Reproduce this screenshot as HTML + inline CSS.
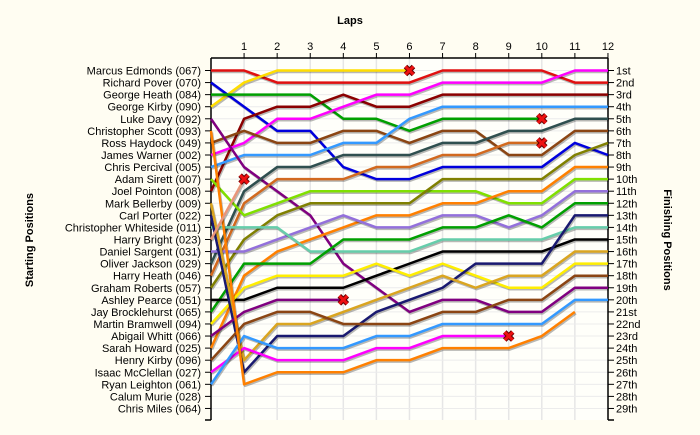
<!DOCTYPE html>
<html><head><meta charset="utf-8"><style>
body{margin:0;background:#fffdf2;}
svg{display:block;font-family:"Liberation Sans",sans-serif;}
</style></head><body>
<svg id="chart" width="700" height="435" viewBox="0 0 700 435" xmlns="http://www.w3.org/2000/svg">
<rect x="0" y="0" width="700" height="435" fill="#fffdf2"/>
<rect x="211" y="58" width="397" height="362" fill="#fffffa"/>
<text x="350" y="24" font-size="11" font-weight="bold" text-anchor="middle">Laps</text>
<text transform="translate(33,240) rotate(-90)" font-size="11" font-weight="bold" text-anchor="middle">Starting Positions</text>
<text transform="translate(664,240) rotate(90)" font-size="11" font-weight="bold" text-anchor="middle">Finishing Positions</text>
<g id="grid"></g><g id="axes"></g><g id="series"></g><g id="marks"></g>
</svg>
<script>
const laps = [0,1,2,3,4,5,6,7,8,9,10,11,12];
const startNames = ["Marcus Edmonds (067)","Richard Pover (070)","George Heath (084)","George Kirby (090)","Luke Davy (092)","Christopher Scott (093)","Ross Haydock (049)","James Warner (002)","Chris Percival (005)","Adam Sirett (007)","Joel Pointon (008)","Mark Bellerby (009)","Carl Porter (022)","Christopher Whiteside (011)","Harry Bright (023)","Daniel Sargent (031)","Oliver Jackson (029)","Harry Heath (046)","Graham Roberts (057)","Ashley Pearce (051)","Jay Brocklehurst (065)","Martin Bramwell (094)","Abigail Whitt (066)","Sarah Howard (025)","Henry Kirby (096)","Isaac McClellan (027)","Ryan Leighton (061)","Calum Murie (028)","Chris Miles (064)"];
const finishLabels = ["1st","2nd","3rd","4th","5th","6th","7th","8th","9th","10th","11th","12th","13th","14th","15th","16th","17th","18th","19th","20th","21st","22nd","23rd","24th","25th","26th","27th","28th","29th"];
const seriesColors = ["#e01010","#ffdd00","#0000dd","#00a000","#8b0000","#ff00ff","#8b4513","#3399ff","#800080","#2f4f4f","#d2691e","#80e000","#808000","#ff8000","#9370db","#66cdaa","#00a000","#000000","#ffee00","#191970","#daa520","#800080","#8b4513","#ff00ff","#3399ff","#ff8000","#e9967a"];
const seriesPositions = [
 [1,1,2,2,2,2,2,1,1,1,1,2,2],
 [4,2,1,1,1,1,1],
 [2,4,6,6,9,10,10,9,9,9,9,7,8],
 [3,3,3,3,5,5,6,5,5,5,5],
 [11,5,4,4,3,4,4,3,3,3,3,3,3],
 [8,7,5,5,4,3,3,2,2,2,2,1,1],
 [7,6,7,7,6,6,7,6,6,8,8,6,6],
 [9,8,8,8,7,7,5,4,4,4,4,4,4],
 [5,9,11,13,17,19,21,20,20,21,21,19,19],
 [17,11,9,9,8,8,8,7,7,6,6,5,5],
 [18,12,10,10,10,9,9,8,8,7,7],
 [10,13,12,11,11,11,11,11,11,12,12,10,10],
 [19,15,13,12,12,12,12,10,10,10,10,8,7],
 [24,18,16,15,14,13,13,12,12,11,11,9,9],
 [16,16,15,14,13,14,14,13,13,14,13,11,11],
 [14,14,14,16,16,16,16,15,15,15,15,14,14],
 [21,17,17,17,15,15,15,14,14,13,14,12,12],
 [20,20,19,19,19,18,17,16,16,16,16,15,15],
 [22,19,18,18,18,17,18,17,18,19,19,17,17],
 [13,26,23,23,23,21,20,19,17,17,17,13,13],
 [12,25,22,22,21,20,19,18,19,18,18,16,16],
 [23,21,20,20,20],
 [25,22,21,21,22,22,22,21,21,20,20,18,18],
 [26,24,25,25,25,24,24,23,23,23],
 [27,23,24,24,24,23,23,22,22,22,22,20,20],
 [6,27,26,26,26,25,25,24,24,24,23,21],
 [15,10]
];
const retired = [1,3,10,21,23,26];
const NS="http://www.w3.org/2000/svg";
const svg=document.getElementById('chart');
function xScale(l){return 211+l*33.08;}
function yScale(p){return 70.5+(p-1)*12.07;}
function mk(tag,attrs,parent){const e=document.createElementNS(NS,tag);for(const k in attrs)e.setAttribute(k,attrs[k]);parent.appendChild(e);return e;}
const grid=document.getElementById('grid'),axes=document.getElementById('axes'),series=document.getElementById('series'),marks=document.getElementById('marks');
laps.forEach(l=>{if(l>0&&l<12){const g=mk('line',{x1:xScale(l),x2:xScale(l),y1:58,y2:420,stroke:'#e6e6e6','stroke-width':1.5},grid);

}
if(l>0){const t=mk('line',{x1:xScale(l),x2:xScale(l),y1:53,y2:58,stroke:'#000'},axes);


const tx=mk('text',{x:xScale(l),y:50,'font-size':11,'text-anchor':'middle'},axes);tx.textContent=l;

}});
finishLabels.forEach((s,i)=>{const y=yScale(i+1);
const g=mk('line',{x1:211,x2:608,y1:y,y2:y,stroke:'#ececec','stroke-width':1},grid);


const t1=mk('line',{x1:205,x2:211,y1:y,y2:y,stroke:'#000'},axes);


const t2=mk('line',{x1:608,x2:614,y1:y,y2:y,stroke:'#000'},axes);


const l1=mk('text',{x:201,y:y+4,'font-size':11,'text-anchor':'end'},axes);l1.textContent=startNames[i];


const l2=mk('text',{x:616,y:y+4,'font-size':11},axes);l2.textContent=s;

});
[[211,58,608,58],[211,58,211,420],[608,58,608,420],[608,420,614,420],[205,420,211,420]].forEach(a=>{const e=mk('line',{x1:a[0],y1:a[1],x2:a[2],y2:a[3],stroke:'#000','stroke-width':1.5},axes);

});
seriesPositions.forEach((ps,i)=>{const pts=ps.map((p,l)=>xScale(l)+','+yScale(p)).join(' ');
const sh=mk('polyline',{points:ps.map((p,l)=>(xScale(l)+1)+','+(yScale(p)+1.5)).join(' '),fill:'none',stroke:'rgba(0,0,0,0.28)','stroke-width':2.5,'stroke-linejoin':'round'},series);


const pl=mk('polyline',{points:pts,fill:'none',stroke:seriesColors[i],'stroke-width':2.5,'stroke-linejoin':'round'},series);


if(retired.includes(i)){const l=ps.length-1,x=xScale(l),y=yScale(ps[l]);
const g=mk('g',{},marks);


mk('path',{d:`M${x-4},${y-4}L${x+4},${y+4}M${x+4},${y-4}L${x-4},${y+4}`,stroke:'#600',"stroke-width":5},g);
mk('path',{d:`M${x-4},${y-4}L${x+4},${y+4}M${x+4},${y-4}L${x-4},${y+4}`,stroke:'#ee1111',"stroke-width":3},g);}});
</script>
</body></html>
